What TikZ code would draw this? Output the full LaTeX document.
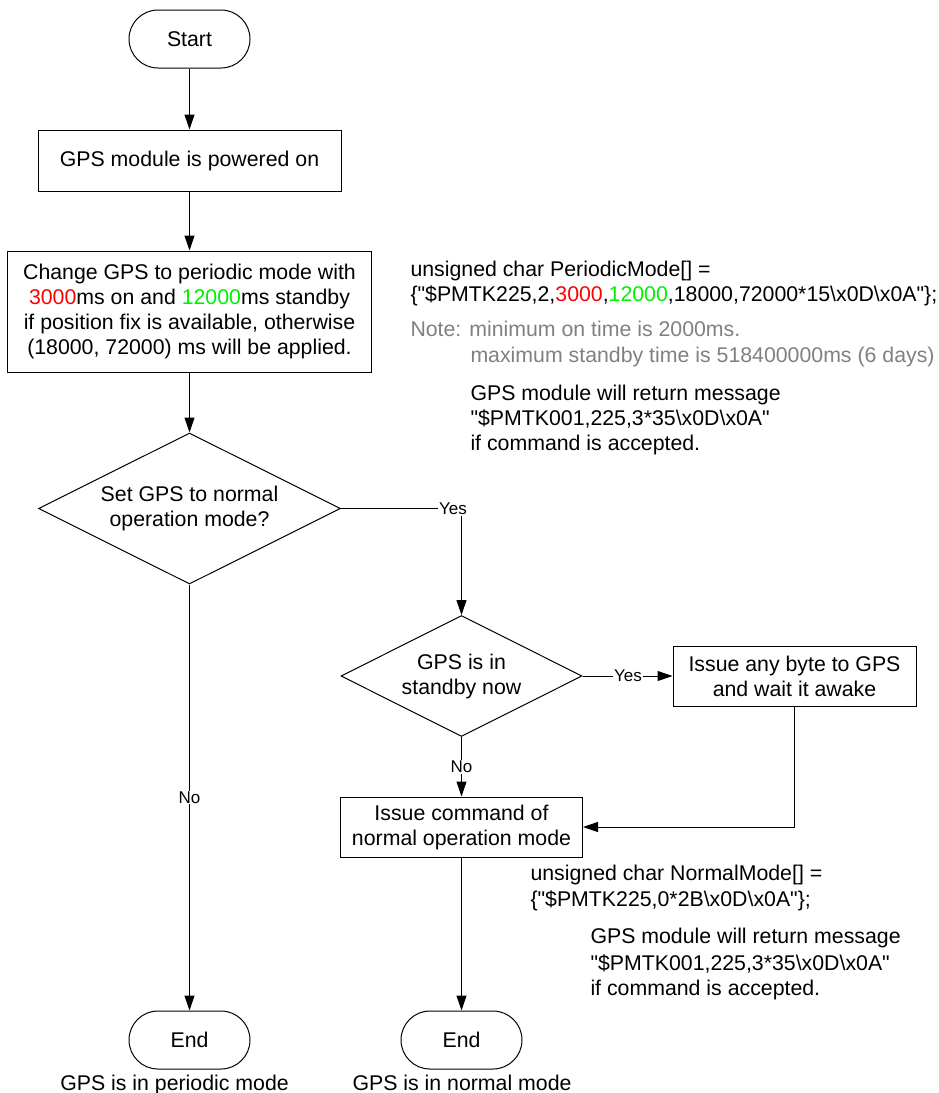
\documentclass[tikz,border=0pt]{standalone}
\usepackage{fontspec}
\setmainfont{Liberation Sans}[Ligatures=TeXOff]
\usetikzlibrary{arrows.meta,shapes.geometric}
\definecolor{vred}{RGB}{255,0,0}
\definecolor{vgreen}{RGB}{0,240,0}
\definecolor{notegray}{RGB}{128,128,128}
\begin{document}
\begin{tikzpicture}[x=1pt,y=-1pt, font=\fontsize{21.3}{25}\selectfont, line width=1pt,
 box/.style={draw, rectangle, inner sep=0pt, align=center},
 term/.style={draw, rectangle, rounded corners=29pt, minimum width=121pt, minimum height=58pt, inner sep=0pt},
 dec/.style={draw, diamond, aspect=2, inner sep=0pt, align=center},
 arr/.style={-{Triangle[length=15pt,width=10pt]}},
 lbl/.style={fill=white, inner sep=1pt, font=\fontsize{17}{20}\selectfont},
 txt/.style={anchor=base west, inner sep=0pt}]
\useasboundingbox (0,0) rectangle (938,1093);
% nodes
\node[term] (start) at (189.5,39) {Start};
\node[box, minimum width=303pt, minimum height=61pt] (pw) at (189.5,160.5) {GPS module is powered on};
\node[box, minimum width=364pt, minimum height=121pt] (per) at (189.5,311.5) {Change GPS to periodic mode with\\\textcolor{vred}{3000}ms on and \textcolor{vgreen}{12000}ms standby\\if position fix is available, otherwise\\(18000, 72000) ms will be applied.};
\node[dec, minimum width=302pt, minimum height=151pt] (d1) at (189.5,508.5) {Set GPS to normal\\operation mode?};
\node[dec, minimum width=241pt, minimum height=121pt] (d2) at (461.5,676) {GPS is in\\standby now};
\node[box, minimum width=243pt, minimum height=60pt] (wake) at (794.5,676) {Issue any byte to GPS\\and wait it awake};
\node[box, minimum width=242pt, minimum height=60pt] (cmd) at (461.5,827) {Issue command of\\normal operation mode};
\node[term] (end1) at (189.5,1040) {End};
\node[term] (end2) at (461.5,1040) {End};
\node[anchor=base, inner sep=0pt] (cap1) at (174.5,1090) {GPS is in periodic mode};
\node[anchor=base, inner sep=0pt] (cap2) at (462,1090) {GPS is in normal mode};
% notes
\node[txt] (n1a) at (410,276) {unsigned char PeriodicMode[] =};
\node[txt] (n1b) at (410,301) {\{"\$PMTK225,2,\textcolor{vred}{3000},\textcolor{vgreen}{12000},18000,72000*15\textbackslash x0D\textbackslash x0A"\};};
\node[txt, text=notegray] (n2a) at (410,336) {Note: minimum on time is 2000ms.};
\node[txt, text=notegray] (n2b) at (470,362) {maximum standby time is 518400000ms (6 days)};
\node[txt] (n3a) at (470,400) {GPS module will return message};
\node[txt] (n3b) at (470,425) {"\$PMTK001,225,3*35\textbackslash x0D\textbackslash x0A"};
\node[txt] (n3c) at (470,450) {if command is accepted.};
\node[txt] (m1a) at (530,880) {unsigned char NormalMode[] =};
\node[txt] (m1b) at (530,906) {\{"\$PMTK225,0*2B\textbackslash x0D\textbackslash x0A"\};};
\node[txt] (m2a) at (590,943) {GPS module will return message};
\node[txt] (m2b) at (590,970) {"\$PMTK001,225,3*35\textbackslash x0D\textbackslash x0A"};
\node[txt] (m2c) at (590,995) {if command is accepted.};
% connectors
\draw[arr] (start) -- (pw);
\draw[arr] (pw) -- (per);
\draw[arr] (per) -- (d1);
\draw[arr] (d1.east) -| (d2.north);
\node[lbl] (y1) at (453,509) {Yes};
\draw[arr] (d2.east) -- (wake.west);
\node[lbl] (y2) at (628,676) {Yes};
\draw[arr] (wake.south) |- (cmd.east);
\draw[arr] (d2.south) -- node[lbl] (no2) {No} (cmd.north);
\draw[arr] (cmd) -- (end2);
\draw[arr] (d1.south) -- node[lbl] (no1) {No} (end1.north);
\end{tikzpicture}
\end{document}
